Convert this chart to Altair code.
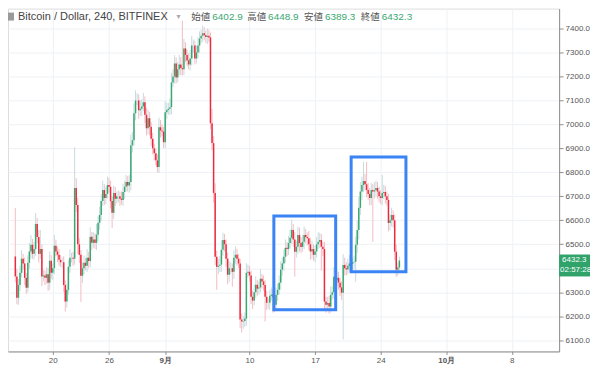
import altair as alt
import pandas as pd

# ---------------- data ----------------
first_open = 6449
# 4h closes, six per day, from Aug 16 to Sep 26
closes = [
    6366, 6277, 6330, 6381, 6440, 6420,   # Aug 16
    6360, 6319, 6423, 6470, 6498, 6460,   # Aug 17
    6480, 6585, 6530, 6460, 6480, 6366,   # Aug 18
    6370, 6360, 6375, 6340, 6431, 6381,   # Aug 19
    6400, 6494, 6470, 6456, 6435, 6425,   # Aug 20
    6425, 6330, 6261, 6310, 6406, 6444,   # Aug 21
    6444, 6440, 6735, 6664, 6500, 6456,   # Aug 22
    6369, 6400, 6423, 6410, 6444, 6430,   # Aug 23
    6531, 6506, 6520, 6506, 6540, 6590,   # Aug 24
    6622, 6680, 6726, 6693, 6710, 6747,   # Aug 25
    6740, 6680, 6631, 6714, 6690, 6700,   # Aug 26
    6700, 6690, 6685, 6718, 6740, 6760,   # Aug 27
    6745, 6760, 6913, 6934, 7047, 7100,   # Aug 28
    7100, 7059, 7065, 7075, 7092, 7040,   # Aug 29
    6984, 7026, 6990, 6940, 6900, 6880,   # Aug 30
    6850, 6822, 6988, 6975, 6970, 6926,   # Aug 31
    7051, 7060, 7065, 7072, 7175, 7200,   # Sep 1
    7254, 7196, 7230, 7250, 7235, 7230,   # Sep 2
    7317, 7290, 7267, 7250, 7275, 7329,   # Sep 3
    7329, 7275, 7300, 7329, 7358, 7370,   # Sep 4
    7380, 7372, 7365, 7370, 7363, 7005,   # Sep 5
    6922, 6714, 6448, 6406, 6410, 6415,   # Sep 6
    6477, 6518, 6500, 6440, 6373, 6400,   # Sep 7
    6400, 6385, 6444, 6456, 6440, 6420,   # Sep 8
    6186, 6178, 6180, 6190, 6381, 6385,   # Sep 9
    6370, 6281, 6265, 6300, 6331, 6315,   # Sep 10
    6320, 6356, 6345, 6330, 6281, 6256,   # Sep 11
    6256, 6285, 6290, 6280, 6248, 6289,   # Sep 12
    6310, 6340, 6394, 6420, 6448, 6485,   # Sep 13
    6480, 6505, 6527, 6560, 6520, 6469,   # Sep 14
    6490, 6539, 6505, 6489, 6510, 6539,   # Sep 15
    6530, 6525, 6500, 6470, 6480, 6456,   # Sep 16
    6470, 6500, 6510, 6518, 6490, 6480,   # Sep 17
    6261, 6248, 6255, 6240, 6289, 6300,   # Sep 18
    6365, 6350, 6360, 6340, 6320, 6298,   # Sep 19
    6414, 6400, 6395, 6410, 6420, 6418,   # Sep 20
    6425, 6427, 6498, 6560, 6652, 6720,   # Sep 21
    6747, 6764, 6750, 6726, 6710, 6693,   # Sep 22
    6726, 6720, 6725, 6735, 6720, 6700,   # Sep 23
    6693, 6714, 6718, 6700, 6685, 6589,   # Sep 24
    6600, 6622, 6600, 6469, 6394, 6402.9, # Sep 25
    6432.3,                               # Sep 26
]
# upper shadow above the body (USD)
wick_up = [
    203, 30, 25, 30, 35, 20,
    25, 20, 30, 35, 40, 25,
    30, 45, 25, 30, 80, 20,
    25, 20, 30, 25, 40, 25,
    20, 45, 25, 20, 25, 20,
    20, 25, 20, 25, 30, 35,
    20, 25, 170, 40, 30, 25,
    20, 25, 30, 20, 35, 25,
    40, 20, 30, 25, 45, 30,
    35, 30, 40, 25, 30, 35,
    30, 25, 20, 30, 25, 20,
    25, 20, 30, 35, 25, 30,
    25, 30, 45, 35, 40, 42,
    30, 25, 35, 30, 40, 25,
    30, 35, 25, 20, 25, 20,
    20, 25, 40, 30, 25, 20,
    45, 30, 25, 35, 40, 30,
    35, 25, 30, 40, 30, 198,
    40, 25, 20, 30, 35, 40,
    25, 20, 30, 35, 30, 25,
    32, 25, 20, 30, 25, 20,
    60, 30, 40, 25, 30, 35,
    40, 30, 25, 20, 25, 30,
    25, 20, 30, 35, 25, 20,
    20, 25, 20, 25, 40, 30,
    25, 20, 25, 30, 35, 20,
    25, 40, 20, 25, 20, 25,
    20, 25, 30, 20, 25, 30,
    25, 30, 35, 25, 30, 35,
    25, 30, 35, 42, 25, 30,
    25, 35, 30, 25, 30, 35,
    25, 20, 30, 25, 35, 20,
    25, 30, 40, 30, 25, 20,
    30, 20, 25, 30, 35, 25,
    40, 153, 30, 25, 20, 25,
    45, 30, 25, 30, 35, 25,
    20, 25, 35, 40, 45, 40,
    35, 79, 30, 93, 30, 25,
    30, 25, 35, 30, 25, 20,
    25, 75, 30, 25, 20, 25,
    25, 30, 20, 25, 30, 20,
    16.6,
]
# lower shadow below the body (USD)
wick_dn = [
    25, 27, 30, 25, 20, 25,
    30, 25, 20, 25, 30, 20,
    25, 30, 25, 35, 20, 40,
    20, 30, 25, 35, 30, 25,
    30, 25, 20, 30, 25, 20,
    25, 30, 42, 25, 20, 25,
    20, 30, 25, 30, 40, 35,
    110, 30, 25, 20, 25, 30,
    25, 30, 20, 25, 30, 25,
    30, 25, 20, 30, 25, 20,
    25, 30, 63, 25, 30, 20,
    25, 30, 20, 25, 30, 20,
    25, 30, 35, 30, 25, 30,
    20, 35, 25, 30, 20, 35,
    30, 25, 35, 30, 25, 30,
    20, 22, 25, 30, 20, 25,
    25, 30, 20, 25, 30, 20,
    30, 25, 20, 25, 30, 25,
    25, 30, 25, 20, 25, 30,
    30, 25, 20, 25, 30, 20,
    25, 20, 25, 30, 20, 25,
    30, 40, 35, 96, 30, 25,
    30, 25, 30, 35, 40, 30,
    25, 62, 30, 25, 30, 20,
    36, 46, 30, 25, 30, 20,
    25, 30, 35, 20, 25, 30,
    25, 20, 30, 25, 103, 30,
    25, 30, 20, 65, 30, 25,
    25, 20, 30, 25, 30, 25,
    30, 25, 20, 25, 30, 104,
    25, 30, 35, 25, 20, 30,
    25, 30, 25, 35, 30, 25,
    30, 25, 20, 25, 100, 30,
    30, 33, 25, 30, 25, 20,
    25, 30, 25, 30, 35, 30,
    195, 30, 25, 20, 25, 30,
    25, 30, 83, 35, 40, 30,
    35, 30, 25, 30, 25, 30,
    30, 210, 30, 25, 30, 25,
    25, 30, 25, 30, 25, 35,
    30, 25, 30, 35, 30, 25,
    13.6,
]
start_day = -4.0          # Aug 16 00:00, in days relative to Aug 20
candle_step = 1.0 / 6.0   # 240 minutes

# highlighted boxes (days rel. Aug 20, price)
box_x0 = [23.6, 31.85]
box_x1 = [30.2, 37.7]
box_top = [6618, 6864]
box_bot = [6227, 6385]

# axes
tick_days = [0, 6, 12, 21, 28, 35, 42, 49]
tick_labels = ["20", "26", "9月", "10", "17", "24", "10月", "8"]
month_ticks = [12, 42]
price_ticks = [6100, 6200, 6300, 6400, 6500, 6600, 6700, 6800, 6900, 7000, 7100, 7200, 7300, 7400]
price_label_hidden = 6400   # covered by the last-price tag

header_title = "Bitcoin / Dollar, 240, BITFINEX"
ohlc_names = ["始値", "高値", "安値", "終値"]
ohlc_values = ["6402.9", "6448.9", "6389.3", "6432.3"]
last_close = 6432.3
countdown = "02:57:28"

# ---------------- build table ----------------
n = len(closes)
opens = [first_open] + closes[:-1]
rows = []
for i in range(n):
    o, c = opens[i], closes[i]
    rows.append({
        "day": start_day + i * candle_step,
        "open": o, "close": c,
        "high": max(o, c) + wick_up[i],
        "low": min(o, c) - wick_dn[i],
    })
df = pd.DataFrame(rows)
boxes = pd.DataFrame({"x0": box_x0, "x1": box_x1, "top": box_top, "bot": box_bot})

W, H = 553, 344
UP, DOWN = "#37a86f", "#ec2a3e"
UPW, DOWNW = "#c6dbe0", "#f5bcc2"
GRID = "#eef1f5"
AX = "#8f8f8f"
FONT = "Liberation Sans"

label_expr = " : ".join(f"datum.value == {d} ? '{t}'" for d, t in zip(tick_days, tick_labels)) + " : ''"
bold_test = " || ".join(f"datum.value == {d}" for d in month_ticks)
ylabel_expr = f"datum.value == {price_label_hidden} ? '' : format(datum.value, '.1f')"

xscale = alt.Scale(domain=[-4.25, 53.52], nice=False, zero=False)
yscale = alt.Scale(domain=[6053, 7483], nice=False, zero=False)

xaxis = alt.Axis(values=tick_days, labelExpr=label_expr, title=None, grid=True,
                 gridColor=GRID, domainColor=AX, tickColor=AX, tickSize=3,
                 labelFontSize=8, labelColor="#555555", labelFont=FONT, labelPadding=2,
                 labelOverlap=False,
                 labelFontWeight={"condition": {"test": bold_test, "value": "bold"}, "value": "normal"})
yaxis = alt.Axis(orient="right", values=price_ticks, labelExpr=ylabel_expr, title=None, grid=True,
                 gridColor=GRID, domainColor=AX, tickColor=AX, tickSize=4,
                 labelFontSize=8, labelColor="#555555", labelFont=FONT, labelPadding=2,
                 labelOverlap=False, labelSeparation=0)

base = alt.Chart(df)
wicks = base.mark_rule(strokeWidth=1).encode(
    x=alt.X("day:Q", scale=xscale, axis=xaxis),
    y=alt.Y("low:Q", scale=yscale, axis=yaxis),
    y2="high:Q",
    color=alt.condition("datum.close >= datum.open", alt.value(UPW), alt.value(DOWNW)),
)
bodies = base.mark_bar(width=1.5).encode(
    x=alt.X("day:Q", axis=xaxis),
    y=alt.Y("open:Q", axis=yaxis),
    y2="close:Q",
    color=alt.condition("datum.close >= datum.open", alt.value(UP), alt.value(DOWN)),
)
rects = alt.Chart(boxes).mark_rect(filled=False, stroke="#3b84f5", strokeWidth=3).encode(
    x=alt.X("x0:Q", axis=xaxis), x2="x1:Q", y=alt.Y("top:Q", axis=yaxis), y2="bot:Q"
)

# price tag on the right axis
tag = alt.Chart(pd.DataFrame({"p": [last_close]})).mark_rect(
    color="#2fa36a", yOffset=-6, y2Offset=16
).encode(x=alt.value(W), x2=alt.value(W + 31), y=alt.Y("p:Q", axis=yaxis), y2="p:Q")
tag_t1 = alt.Chart(pd.DataFrame({"p": [last_close], "t": [f"{last_close:.1f}"]})).mark_text(
    color="white", fontSize=8, font=FONT, align="left", baseline="middle", dy=0
).encode(x=alt.value(W + 3), y=alt.Y("p:Q", axis=yaxis), text="t:N")
tag_t2 = alt.Chart(pd.DataFrame({"p": [last_close], "t": [countdown]})).mark_text(
    color="white", fontSize=8, font=FONT, align="left", baseline="middle", dy=10
).encode(x=alt.value(W + 1), y=alt.Y("p:Q", axis=yaxis), text="t:N")

# header legend
def txt(s, x, y, color, size=10, font=FONT, weight="normal"):
    return alt.Chart(pd.DataFrame({"t": [s]})).mark_text(
        align="left", baseline="middle", color=color, fontSize=size, font=font, fontWeight=weight
    ).encode(x=alt.value(x), y=alt.value(y), text="t:N")

HY = 8
icon = alt.Chart(pd.DataFrame({"a": [0]})).mark_rect(color="#9a9a9a").encode(
    x=alt.value(0), x2=alt.value(6), y=alt.value(HY - 4), y2=alt.value(HY + 4)
)
header = [icon, txt(header_title, 10, HY, "#444444", 11),
          txt("▾", 169, HY, "#aaaaaa", 8, "DejaVu Sans")]
name_x = [184, 240, 297, 354]
for nm, val, nx in zip(ohlc_names, ohlc_values, name_x):
    header.append(txt(nm, nx, HY, "#555555", 9.5, "Noto Sans CJK JP"))
    header.append(txt(val, nx + 21, HY, "#3aa873", 10))

chart = alt.layer(wicks, bodies, rects, tag, tag_t1, tag_t2, *header).properties(
    width=W, height=H, padding=0
).configure_view(strokeWidth=0).configure_axis(
    labelOverlap=False
).configure(background="white")

chart.save("out.html", embed_options={"renderer": "svg", "actions": False})
